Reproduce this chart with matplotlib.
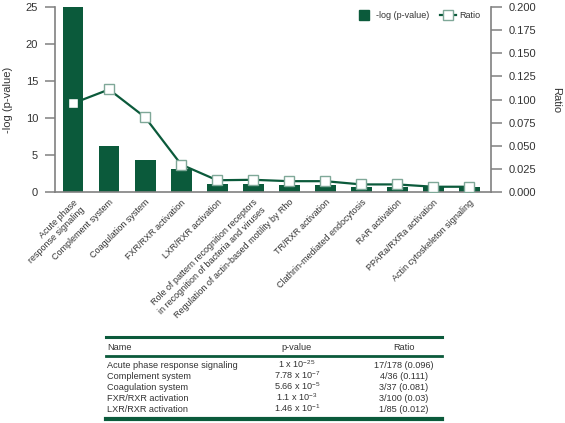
import numpy as np
import matplotlib
matplotlib.use("Agg")
import matplotlib.pyplot as plt
from matplotlib.lines import Line2D

plt.rcParams["font.family"] = ["Liberation Sans", "DejaVu Sans"]
plt.rcParams["mathtext.fontset"] = "custom"
plt.rcParams["mathtext.rm"] = "Liberation Sans"

# ---- data ----
categories = ["Acute phase\nresponse signaling", "Complement system", "Coagulation system",
              "FXR/RXR activation", "LXR/RXR activation",
              "Role of pattern recognition receptors\nin recognition of bacteria and viruses",
              "Regulation of actin-based motility by Rho", "TR/RXR activation",
              "Clathrin-mediated endocytosis", "RAR activation", "PPARa/RXRa activation",
              "Actin cytoskeleton signaling"]
neglogp = [25.0, 6.26, 4.37, 3.2, 1.08, 1.06, 1.03, 1.03, 0.76, 0.76, 0.74, 0.74]
ratio = [0.096, 0.111, 0.081, 0.030, 0.013, 0.0135, 0.012, 0.012, 0.0085, 0.0085, 0.006, 0.006]

tbl_names = ["Acute phase response signaling", "Complement system", "Coagulation system",
             "FXR/RXR activation", "LXR/RXR activation"]
tbl_p = [r"1 x 10$^{\mathregular{-25}}$", r"7.78 x 10$^{\mathregular{-7}}$",
         r"5.66 x 10$^{\mathregular{-5}}$", r"1.1 x 10$^{\mathregular{-3}}$",
         r"1.46 x 10$^{\mathregular{-1}}$"]
tbl_ratio = ["17/178 (0.096)", "4/36 (0.111)", "3/37 (0.081)", "3/100 (0.03)", "1/85 (0.012)"]

GREEN = "#0b5a3b"
EDGE = "#7fa898"
GRAY = "#808080"
TXT = "#333333"

W, H = 565, 423
fig = plt.figure(figsize=(W / 100, H / 100), dpi=100)
ax = fig.add_axes([55 / W, 1 - 192.3 / H, 436 / W, 185.3 / H])
x = np.arange(len(categories))
ax.bar(x, neglogp, width=0.58, color=GREEN, zorder=2)
ax.set_xlim(-0.5, 11.6)
ax.set_ylim(0, 25)
ax.set_yticks(np.arange(0, 26, 5))
ax.set_xticks(x)
ax.set_xticklabels(categories, rotation=45, ha="right", va="top", rotation_mode="anchor",
                   fontsize=6.5, color=TXT, multialignment="right")
ax.tick_params(axis="x", length=0, pad=4)
ax.tick_params(axis="y", length=7.2, width=1.1, color=GRAY, labelsize=8, labelcolor=TXT, pad=5)
for s in ["top", "right"]:
    ax.spines[s].set_visible(False)
for s in ["left", "bottom"]:
    ax.spines[s].set_color(GRAY)
    ax.spines[s].set_linewidth(1.2)
ax.set_ylabel("-log (p-value)", fontsize=8, color=TXT, labelpad=9)

ax2 = ax.twinx()
ax2.plot(x, ratio, color=GREEN, lw=1.6, zorder=3)
ax2.plot(x[1:], ratio[1:], ls="none", marker="s", markersize=6.5,
         markerfacecolor="white", markeredgecolor=EDGE, markeredgewidth=1, zorder=4)
ax2.plot(x[:1], ratio[:1], ls="none", marker="s", markersize=6.5,
         markerfacecolor="white", markeredgecolor=GREEN, markeredgewidth=1, zorder=4)
ax2.set_ylim(0, 0.2)
ticks_r = np.arange(0, 0.2001, 0.025)
ax2.set_yticks(ticks_r)
ax2.set_yticklabels([f"{v:.3f}" for v in ticks_r])
ax2.tick_params(axis="y", length=8, width=1.1, color=GRAY, labelsize=8, labelcolor=TXT, pad=4.5)
for s in ["top", "left", "bottom"]:
    ax2.spines[s].set_visible(False)
ax2.spines["right"].set_color(GRAY)
ax2.spines["right"].set_linewidth(1.2)
ax2.set_ylabel("Ratio", rotation=270, fontsize=8, color=TXT, labelpad=18)

handles = [Line2D([], [], marker="s", ls="none", color=GREEN, markersize=6.5),
           Line2D([], [], color=GREEN, lw=1.6, marker="s", markersize=6.5,
                  markerfacecolor="white", markeredgecolor=EDGE)]
ax2.legend(handles, ["-log (p-value)", "Ratio"], ncol=2, loc="upper right",
           bbox_to_anchor=(0.995, 1.02), frameon=False, fontsize=6.5, handlelength=1.8,
           columnspacing=1.2, handletextpad=0.4, labelcolor=TXT)

# ---- table ----
def fx(px):
    return px / W

def fy(py):
    return 1 - py / H

x0, x1 = 106, 442
for yy, lw in [(337, 2.2), (356, 2.0), (419, 3.0)]:
    fig.add_artist(Line2D([fx(x0), fx(x1)], [fy(yy), fy(yy)], color=GREEN, lw=lw))
fs = 6.6
fig.text(fx(107), fy(349.5), "Name", fontsize=fs, color=TXT, va="baseline")
fig.text(fx(297), fy(349.5), "p-value", fontsize=fs, color=TXT, va="baseline", ha="center")
fig.text(fx(404), fy(349.5), "Ratio", fontsize=fs, color=TXT, va="baseline", ha="center")
row_y = [368, 379, 390, 401, 412]
for ry, n, p, r in zip(row_y, tbl_names, tbl_p, tbl_ratio):
    fig.text(fx(107), fy(ry), n, fontsize=fs, color=TXT, va="baseline")
    fig.text(fx(297), fy(ry), p, fontsize=fs, color=TXT, va="baseline", ha="center")
    fig.text(fx(404), fy(ry), r, fontsize=fs, color=TXT, va="baseline", ha="center")

fig.savefig("out.png", dpi=100)
